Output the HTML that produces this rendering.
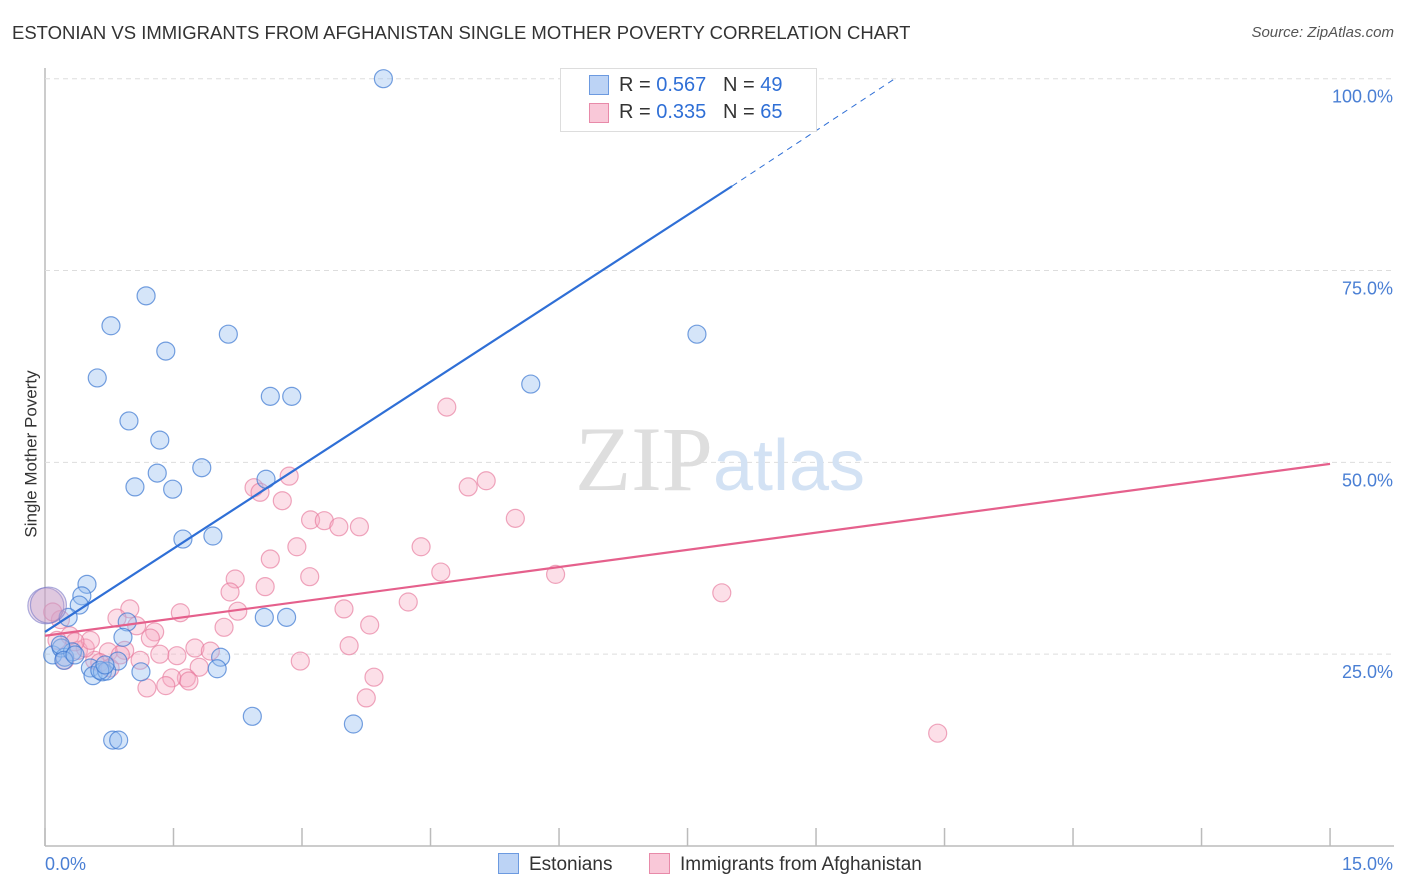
<!DOCTYPE html>
<html><head><meta charset="utf-8"><style>
body{margin:0;background:#fff;font-family:"Liberation Sans",sans-serif}
#wrap{position:relative;width:1406px;height:892px;overflow:hidden}
.t{position:absolute;white-space:nowrap}
</style></head><body><div id="wrap">
<div class="t" style="left:12px;top:22px;font-size:18.5px;color:#333">ESTONIAN VS IMMIGRANTS FROM AFGHANISTAN SINGLE MOTHER POVERTY CORRELATION CHART</div>
<div class="t" style="right:12px;top:24px;font-size:15px;color:#555;font-style:italic">Source: ZipAtlas.com</div>
<div class="t" style="left:-52px;top:444px;font-size:17px;color:#333;transform:rotate(-90deg)">Single Mother Poverty</div>
<svg id="svg" width="1406" height="892" style="position:absolute;left:0;top:0"></svg>
</div>
<script>
const xTicks=[0,1.5,3,4.5,6,7.5,9,10.5,12,13.5,15];
const yTicks=[25,50,75,100];
const yTickLabels=["25.0%","50.0%","75.0%","100.0%"];
const estX=[3.95,1.18,0.77,2.14,1.41,7.61,0.61,5.67,2.63,2.88,0.98,1.34,1.83,1.31,2.58,1.05,1.49,1.61,1.96,0.49,0.43,0.40,0.27,0.96,0.91,2.56,2.82,0.09,0.19,0.23,0.32,0.18,0.85,0.53,0.56,0.67,0.72,1.12,2.05,2.01,2.42,3.60,0.79,0.86,0.64,0.22,0.35,0.70];
const estY=[100,71.7,67.8,66.7,64.5,66.7,61.0,60.2,58.6,58.6,55.4,52.9,49.3,48.6,47.8,46.8,46.5,40.0,40.4,34.1,32.6,31.4,29.8,29.2,27.2,29.8,29.8,24.9,25.8,24.6,25.3,26.2,24.1,23.2,22.2,22.7,22.8,22.7,24.6,23.1,16.9,15.9,13.8,13.8,22.9,24.2,24.9,23.6];
const afgX=[4.69,5.15,4.94,5.49,2.85,2.44,2.51,2.77,3.10,3.26,3.43,3.67,4.39,2.94,2.63,4.62,5.96,2.22,3.09,2.57,2.16,4.24,3.49,2.25,0.99,0.84,1.58,0.18,0.09,3.79,2.09,1.28,1.07,1.23,3.55,1.75,1.93,0.74,0.93,1.34,1.54,0.29,0.39,0.58,0.64,0.76,2.98,1.80,1.65,1.48,1.68,3.84,1.19,1.41,3.75,7.90,10.42,0.47,0.23,1.11,0.53,0.88,0.14,0.35];
const afgY=[57.2,47.6,46.8,42.7,48.2,46.7,46.1,45.0,42.5,42.4,41.6,41.6,39.0,39.0,37.4,35.7,35.4,34.8,35.1,33.8,33.1,31.8,30.9,30.6,30.9,29.7,30.4,29.5,30.5,28.8,28.5,27.9,28.7,27.1,26.1,25.8,25.4,25.3,25.5,25.0,24.8,27.4,25.5,24.2,23.9,23.2,24.1,23.3,21.9,21.9,21.5,22.0,20.6,20.9,19.3,33.0,14.7,25.8,24.2,24.2,26.8,24.9,26.8,26.6];
const bigX=[0.01,0.04], bigY=[31.3,31.4];
const estLine=[0,27.9,8.02,86.0,9.92,100];
const afgLine=[0,27.4,15,49.8];
const sx=v=>45+v*85.67, sy=v=>846-v*7.673;
const svg=document.getElementById('svg'),NS="http://www.w3.org/2000/svg";
function mk(tag,at){const e=document.createElementNS(NS,tag);for(const k in at)e.setAttribute(k,at[k]);svg.appendChild(e);return e;}
let e;
e=mk('line',{x1:45,y1:68,x2:45,y2:846,stroke:'#bbb','stroke-width':1.5});


e=mk('line',{x1:45,y1:846,x2:1394,y2:846,stroke:'#bbb','stroke-width':1.5});


yTicks.forEach((v,i)=>{
 e=mk('line',{x1:45,y1:sy(v),x2:1394,y2:sy(v),stroke:'#ddd','stroke-dasharray':'5,4'});
 
 
 e=mk('text',{x:1393,y:sy(v)+24,'text-anchor':'end','font-size':18,fill:'#4a7fd4','font-family':'Liberation Sans'});
 e.textContent=yTickLabels[i];
 
 
});
xTicks.forEach(v=>{
 e=mk('line',{x1:sx(v),y1:828,x2:sx(v),y2:846,stroke:'#bbb','stroke-width':1.5});
 
 
});
e=mk('text',{x:45,y:870,'font-size':18,fill:'#4a7fd4','font-family':'Liberation Sans'});e.textContent='0.0%';


e=mk('text',{x:1393,y:870,'text-anchor':'end','font-size':18,fill:'#4a7fd4','font-family':'Liberation Sans'});e.textContent='15.0%';


e=mk('text',{x:720,y:490,'text-anchor':'middle','font-size':92,fill:'#dedede','font-family':'Liberation Serif'});
e.innerHTML='ZIP<tspan fill="#d3e2f4" font-family="Liberation Sans" font-size="72">atlas</tspan>';


function dots(X,Y,fill,stroke,name,r){X.forEach((x,i)=>{
 const c=mk('circle',{cx:sx(x),cy:sy(Y[i]),r:r,fill:fill,stroke:stroke,'stroke-width':1.2});
 
 
});}
dots(afgX,afgY,'rgba(246,170,195,0.38)','rgba(230,120,155,0.65)','afghanistan-point',9);
dots(estX,estY,'rgba(150,190,240,0.4)','rgba(60,120,210,0.7)','estonian-point',9);
dots(bigX,bigY,'rgba(200,160,200,0.35)','rgba(120,120,200,0.6)','large-point',18);
e=mk('line',{x1:sx(estLine[0]),y1:sy(estLine[1]),x2:sx(estLine[2]),y2:sy(estLine[3]),stroke:'#2f6fd6','stroke-width':2.2});


e=mk('line',{x1:sx(estLine[2]),y1:sy(estLine[3]),x2:sx(estLine[4]),y2:sy(estLine[5]),stroke:'#2f6fd6','stroke-width':1,'stroke-dasharray':'6,5'});


e=mk('line',{x1:sx(afgLine[0]),y1:sy(afgLine[1]),x2:sx(afgLine[2]),y2:sy(afgLine[3]),stroke:'#e5608c','stroke-width':2.2});


</script>
<div class="t" style="left:560px;top:68px;width:255px;height:62px;border:1px solid #ddd;background:#fff;font-size:20px;color:#333">
 <div style="position:absolute;left:28px;top:6px;width:18px;height:18px;background:#bcd3f5;border:1px solid #6c9ae0"></div>
 <div style="position:absolute;left:58px;top:5px">R = <span style="color:#2f6fd6">0.567</span> &nbsp; N = <span style="color:#2f6fd6">49</span></div>
 <div style="position:absolute;left:28px;top:34px;width:18px;height:18px;background:#f9c8d8;border:1px solid #e88aa9"></div>
 <div style="position:absolute;left:58px;top:32px">R = <span style="color:#2f6fd6">0.335</span> &nbsp; N = <span style="color:#2f6fd6">65</span></div>
</div>
<div class="t" style="left:498px;top:853px;font-size:19px;color:#333"><span style="display:inline-block;width:19px;height:19px;background:#bcd3f5;border:1px solid #6c9ae0;vertical-align:-4px;margin-right:10px"></span>Estonians</div>
<div class="t" style="left:649px;top:853px;font-size:19px;color:#333"><span style="display:inline-block;width:19px;height:19px;background:#f9c8d8;border:1px solid #e88aa9;vertical-align:-4px;margin-right:10px"></span>Immigrants from Afghanistan</div>
</body></html>
